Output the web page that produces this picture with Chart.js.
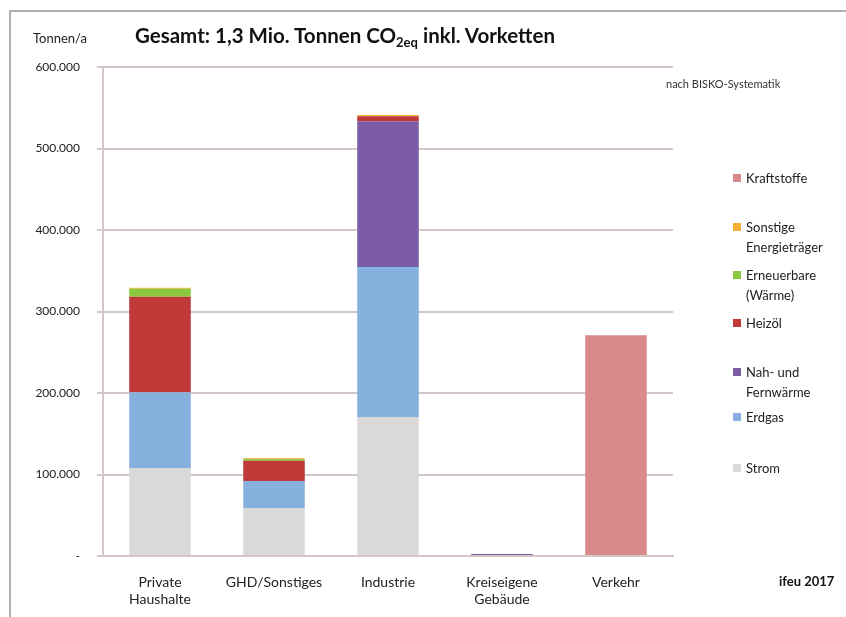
<!DOCTYPE html>
<html>
<head>
<meta charset="utf-8">
<script src="https://cdn.jsdelivr.net/npm/chart.js@4/dist/chart.umd.min.js"></script>
<style>
    html, body { margin: 0; padding: 0; background: #fff; }
    body { width: 846px; height: 617px; position: relative; overflow: hidden; font-family: Lato, 'Open Sans', sans-serif; color: #333; }
    #frame { position: absolute; left: 9px; top: 10px; width: 846px; height: 620px; border-left: 2px solid #b0b0b0; border-top: 2px solid #b0b0b0; }
    #wrap { position: absolute; left: 0; top: 0; width: 846px; height: 617px; }
    .txt { position: absolute; white-space: nowrap; }
    #unit { left: 33px; top: 30px; font-size: 13px; color: #222; }
    #title { left: 135px; top: 23px; font-size: 20.5px; font-weight: bold; color: #111; }
    #title sub { font-size: 13px; vertical-align: -4px; }
    #note { left: 666px; top: 77px; font-size: 11px; color: #333; }
    #src { left: 779px; top: 573px; font-size: 13px; font-weight: bold; color: #111; }
    #legend { position: absolute; left: 733px; top: 0; }
    .leg { position: absolute; left: 0; font-size: 13px; line-height: 20px; color: #222; white-space: nowrap; }
    .leg i { position: absolute; left: 0; top: 6px; width: 8px; height: 8px; }
    .leg span { display: block; padding-left: 13px; }
</style>
</head>
<body>
<div id="frame"></div>
<div id="wrap"><canvas id="co2Chart" width="846" height="617"></canvas></div>
<div class="txt" id="unit">Tonnen/a</div>
<div class="txt" id="title">Gesamt: 1,3 Mio. Tonnen CO<sub>2eq</sub> inkl. Vorketten</div>
<div class="txt" id="note">nach BISKO-Systematik</div>
<div class="txt" id="src">ifeu 2017</div>
<div id="legend"></div>
<script>
// CO2 emissions by sector and energy carrier (t/a)

const sectors = [['Private', 'Haushalte'], 'GHD/Sonstiges', 'Industrie', ['Kreiseigene', 'Gebäude'], 'Verkehr'];

const strom        = [108000, 59000, 170500, 0, 0];
const erdgas       = [93000, 33000, 184000, 0, 0];
const fernwaerme   = [0, 0, 179000, 2500, 0];
const heizoel      = [117000, 25000, 6000, 0, 0];
const erneuerbare  = [10000, 2000, 0, 0, 0];
const sonstige     = [1000, 1000, 1500, 0, 0];
const kraftstoffe  = [0, 0, 0, 0, 271000];

const yTicks = [0, 100000, 200000, 300000, 400000, 500000, 600000];

const seriesNames = ['Strom', 'Erdgas', 'Nah- und Fernwärme', 'Heizöl', 'Erneuerbare (Wärme)', 'Sonstige Energieträger', 'Kraftstoffe'];
const legendLines = [['Strom'], ['Erdgas'], ['Nah- und', 'Fernwärme'], ['Heizöl'], ['Erneuerbare', '(Wärme)'], ['Sonstige', 'Energieträger'], ['Kraftstoffe']];
const seriesData = [strom, erdgas, fernwaerme, heizoel, erneuerbare, sonstige, kraftstoffe];
const seriesColors = ['#d9d9d9', '#86b0de', '#7d5ca6', '#c13a3a', '#8cc83f', '#f3b035', '#d98b8b'];

// layout of the legend block (top of each entry, px)
const legendTop = [458, 407, 362, 313, 265, 217, 168];

const legendEl = document.getElementById('legend');
seriesNames.forEach((name, i) => {
    const item = document.createElement('div');
    item.className = 'leg';
    item.style.top = legendTop[i] + 'px';
    item.innerHTML = '<i style="background:' + seriesColors[i] + '"></i>' +
        legendLines[i].map(l => '<span>' + l + '</span>').join('');
    legendEl.appendChild(item);
});

const fmt = v => v === 0 ? '-' : v.toLocaleString('de-DE');

new Chart(document.getElementById('co2Chart'), {
    type: 'bar',
    data: {
        labels: sectors,
        datasets: seriesNames.map((name, i) => ({
            label: name,
            data: seriesData[i],
            backgroundColor: seriesColors[i],
            borderWidth: 0,
            barPercentage: 0.54,
            categoryPercentage: 1,
        })),
    },
    options: {
        responsive: false,
        animation: false,
        layout: { padding: { top: 67, right: 173, left: 0, bottom: 0 } },
        plugins: {
            legend: { display: false },
            tooltip: { enabled: false },
        },
        scales: {
            x: {
                stacked: true,
                grid: { display: false },
                border: { color: '#d3c7c7', width: 2 },
                ticks: { color: '#222', font: { family: 'Lato', size: 14 }, padding: 10, maxRotation: 0 },
                afterFit: scale => { scale.height = 61; },
            },
            y: {
                stacked: true,
                min: 0,
                max: 600000,
                afterBuildTicks: scale => { scale.ticks = yTicks.map(v => ({ value: v })); },
                grid: { color: '#d3c7c7', lineWidth: 2, tickLength: 6 },
                border: { color: '#d3c7c7', width: 2 },
                ticks: {
                    color: '#222',
                    font: { family: 'Lato', size: 12 },
                    padding: 17,
                    callback: v => fmt(v),
                },
                afterFit: scale => { scale.width = 103; },
            },
        },
    },
});
</script>
</body>
</html>
